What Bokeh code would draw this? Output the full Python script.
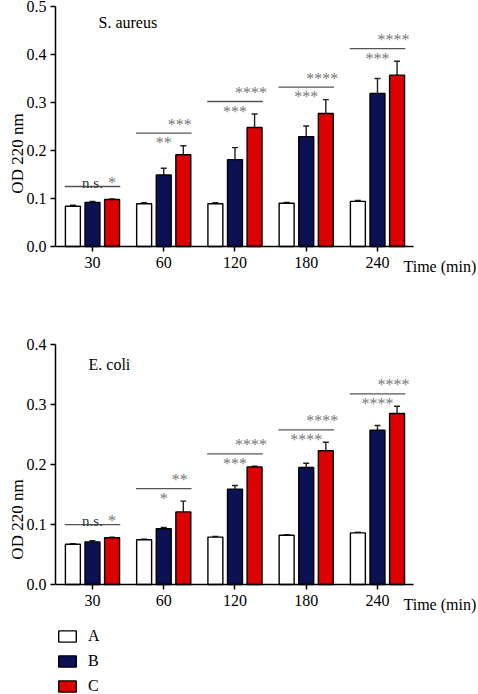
from bokeh.plotting import figure
from bokeh.models import (ColumnDataSource, Whisker, TeeHead, FixedTicker,
                          PrintfTickFormatter, Label, Legend, LegendItem, Range1d)
from bokeh.layouts import column
from bokeh.embed import file_html
from bokeh.resources import INLINE
from bokeh.core.properties import value

FONT = "'Liberation Serif'"

times = ["30", "60", "120", "180", "240"]
groups = ["A", "B", "C"]
colors = ["#ffffff", "#0b1152", "#dc0000"]

# S. aureus
sa_A = [0.084, 0.089, 0.089, 0.090, 0.094]
sa_B = [0.092, 0.149, 0.181, 0.229, 0.319]
sa_C = [0.098, 0.191, 0.248, 0.277, 0.357]
sa_A_err = [0.002, 0.002, 0.002, 0.002, 0.002]
sa_B_err = [0.002, 0.014, 0.025, 0.022, 0.031]
sa_C_err = [0.001, 0.019, 0.028, 0.029, 0.029]
sa_sig_B = ["n.s.", "**", "***", "***", "***"]
sa_sig_C = ["*", "***", "****", "****", "****"]
sa_yticks = [0.0, 0.1, 0.2, 0.3, 0.4, 0.5]

# E. coli
ec_A = [0.067, 0.0745, 0.079, 0.082, 0.086]
ec_B = [0.071, 0.093, 0.159, 0.195, 0.257]
ec_C = [0.078, 0.121, 0.196, 0.223, 0.285]
ec_A_err = [0.001, 0.001, 0.001, 0.001, 0.001]
ec_B_err = [0.002, 0.002, 0.006, 0.007, 0.008]
ec_C_err = [0.001, 0.018, 0.001, 0.014, 0.012]
ec_sig_B = ["n.s.", "*", "***", "****", "****"]
ec_sig_C = ["*", "**", "****", "****", "****"]
ec_yticks = [0.0, 0.1, 0.2, 0.3, 0.4]

W = 478
LEFT = 55
XPPU = 71.25            # pixels per category step
X0 = -0.519             # left end of x axis
X1 = 4.505              # right end of x axis
OFFS = [-0.275, 0.0, 0.275]
BAR_W = 0.21


def build(A, B, C, Ae, Be, Ce, sigB, sigC, yticks, title, title_x, title_dy,
          height, btop, ppu, legend=False):
    ymax = yticks[-1]
    frame_h = height - btop
    ystart = ymax - frame_h / ppu
    xend = X0 + (W - LEFT) / XPPU
    p = figure(width=W, height=height, x_range=Range1d(X0, xend),
               y_range=Range1d(ystart, ymax), output_backend="svg",
               toolbar_location=None, min_border_left=LEFT, min_border_right=0,
               min_border_top=btop, min_border_bottom=0)
    p.outline_line_color = None
    p.xgrid.visible = False
    p.ygrid.visible = False
    p.background_fill_color = "white"
    p.border_fill_color = "white"

    renderers = []
    for k, (vals, errs) in enumerate([(A, Ae), (B, Be), (C, Ce)]):
        xs = [i + OFFS[k] for i in range(len(times))]
        src = ColumnDataSource(dict(x=xs, top=vals,
                                    hi=[v + e for v, e in zip(vals, errs)]))
        w = Whisker(source=src, base="x", lower="top", upper="hi",
                    line_color="#222222", line_width=1.4, lower_head=None,
                    upper_head=TeeHead(size=6, line_color="#222222", line_width=1.4))
        p.add_layout(w)
        r = p.vbar(x="x", top="top", bottom=0, width=BAR_W, source=src,
                   fill_color=colors[k], line_color="black", line_width=1.4)
        renderers.append(r)

    # significance brackets
    bx0, bx1, by = [], [], []
    tx, ty, tt = [], [], []
    for i in range(len(times)):
        peak = max(A[i] + Ae[i], B[i] + Be[i], C[i] + Ce[i])
        line_y = peak + 12.5 / ppu
        bx0.append(i - 0.39)
        bx1.append(i + 0.39)
        by.append(line_y)
        ns = sigB[i] == "n.s."
        tx.append(i)
        ty.append(line_y + 3.5 / ppu if ns else line_y - 9.5 / ppu)
        tt.append(sigB[i])
        tx.append(i + OFFS[2] - (0.0 if ns else 0.05))
        ty.append(line_y + (4 if ns else 9) / ppu)
        tt.append(sigC[i])
    p.segment(x0=bx0, x1=bx1, y0=by, y1=by, line_color="#555555", line_width=1.3)
    tcol = ["#333333" if t == "n.s." else "#777777" for t in tt]
    tsize = ["15px" if t == "n.s." else "16px" for t in tt]
    p.text(x=tx, y=ty, text=tt, text_color=tcol, text_font=value(FONT),
           text_font_size=tsize, text_align="center", text_baseline="alphabetic")

    # axes
    xa = p.xaxis[0]
    ya = p.yaxis[0]
    xa.fixed_location = 0
    xa.bounds = (X0, X1)
    ya.bounds = (0, ymax)
    xa.ticker = FixedTicker(ticks=list(range(len(times))))
    xa.major_label_overrides = {i: t for i, t in enumerate(times)}
    ya.ticker = FixedTicker(ticks=yticks)
    ya.formatter = PrintfTickFormatter(format="%.1f")
    ya.axis_label = "OD 220 nm"
    for ax in (xa, ya):
        ax.axis_line_color = "black"
        ax.axis_line_width = 1.5
        ax.major_tick_line_color = "black"
        ax.major_tick_line_width = 1.5
        ax.major_tick_in = 0
        ax.major_tick_out = 5
        ax.minor_tick_line_color = None
        ax.major_label_text_font = FONT
        ax.major_label_text_font_size = "16px"
        ax.major_label_text_color = "black"
        ax.major_label_standoff = 5
    ya.major_label_standoff = 4
    ya.axis_label_text_font = FONT
    ya.axis_label_text_font_size = "17px"
    ya.axis_label_text_font_style = "normal"
    ya.axis_label_text_color = "black"
    ya.axis_label_standoff = -3

    p.add_layout(Label(x=title_x, y=ymax - title_dy / ppu, x_units="screen",
                       text=title, text_font=FONT, text_font_size="16px",
                       text_baseline="middle", text_color="black"))
    p.add_layout(Label(x=348, y=-20 / ppu, x_units="screen",
                       text="Time (min)", text_font=FONT, text_font_size="16px",
                       text_baseline="middle", text_color="black"))

    if legend:
        items = [LegendItem(label=value(g), renderers=[r])
                 for g, r in zip(groups, renderers)]
        lg = Legend(items=items, location=(1, -1), orientation="vertical",
                    glyph_width=22, glyph_height=14, label_height=18,
                    label_standoff=10, spacing=7, padding=0, margin=0,
                    border_line_color=None, background_fill_alpha=0,
                    label_text_font=FONT, label_text_font_size="16px",
                    label_text_color="black")
        p.add_layout(lg, "center")
    return p


p1 = build(sa_A, sa_B, sa_C, sa_A_err, sa_B_err, sa_C_err, sa_sig_B, sa_sig_C,
           sa_yticks, "S. aureus", 43, 16, height=300, btop=6, ppu=480)
p2 = build(ec_A, ec_B, ec_C, ec_A_err, ec_B_err, ec_C_err, ec_sig_B, ec_sig_C,
           ec_yticks, "E. coli", 33, 20, height=394, btop=44, ppu=600,
           legend=True)

layout = column(p1, p2, spacing=0)
open("out.html", "w").write(file_html(layout, INLINE))
